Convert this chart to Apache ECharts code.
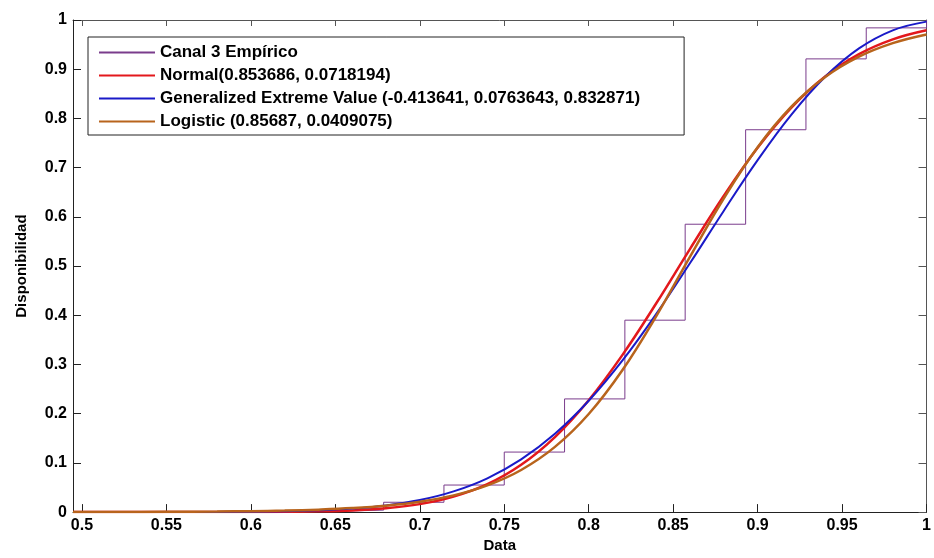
<!DOCTYPE html>
<html>
<head>
<meta charset="utf-8">
<script src="https://cdn.jsdelivr.net/npm/echarts@6/dist/echarts.min.js"></script>
<style>
html,body{margin:0;padding:0;background:#fff;}
#chart{width:934px;height:558px;}
</style>
</head>
<body>
<div id="chart"></div>
<script>
// ---- data ----
const xTicks = [0.5, 0.55, 0.6, 0.65, 0.7, 0.75, 0.8, 0.85, 0.9, 0.95, 1];
const yTicks = [0, 0.1, 0.2, 0.3, 0.4, 0.5, 0.6, 0.7, 0.8, 0.9, 1];

const empX = [0.63, 0.63, 0.6786, 0.7143, 0.75, 0.7857, 0.8214, 0.8571, 0.8929, 0.9286, 0.9643, 1.0];
const empY = [0, 0.004, 0.02, 0.055, 0.122, 0.23, 0.39, 0.585, 0.777, 0.921, 0.984, 1.0];

const fitX = [0.4947, 0.52, 0.55, 0.58, 0.60, 0.62, 0.64, 0.66, 0.68, 0.70, 0.72, 0.74, 0.76, 0.78, 0.80, 0.82, 0.84, 0.86, 0.88, 0.90, 0.92, 0.94, 0.96, 0.98, 1.00];
const normalY = [0, 0, 0, 0.0001, 0.0002, 0.0006, 0.0015, 0.0035, 0.0078, 0.0162, 0.0314, 0.0567, 0.0961, 0.1525, 0.2274, 0.3195, 0.4244, 0.5350, 0.6430, 0.7405, 0.8221, 0.8853, 0.9306, 0.9607, 0.9792];
const gevY = [0, 0, 0.0001, 0.0003, 0.0008, 0.0017, 0.0036, 0.0071, 0.0136, 0.0245, 0.0421, 0.0687, 0.1070, 0.1591, 0.2262, 0.3082, 0.4028, 0.5061, 0.6125, 0.7151, 0.8077, 0.8846, 0.9422, 0.9790, 0.9967];
const logisticY = [0.0001, 0.0003, 0.0006, 0.0012, 0.0019, 0.0030, 0.0050, 0.0081, 0.0131, 0.0211, 0.0340, 0.0543, 0.0856, 0.1325, 0.1994, 0.2888, 0.3984, 0.5191, 0.6377, 0.7416, 0.8239, 0.8842, 0.9256, 0.9530, 0.9707];

const names = [
  'Canal 3 Empírico',
  'Normal(0.853686, 0.0718194)',
  'Generalized Extreme Value (-0.413641, 0.0763643, 0.832871)',
  'Logistic (0.85687, 0.0409075)'
];

const zip = (xs, ys) => xs.map((x, i) => [x, ys[i]]);
const FONT = 'Arial, "Liberation Sans", sans-serif';
const fmt = v => String(+v.toFixed(2));

const chart = echarts.init(document.getElementById('chart'), null, {renderer: 'canvas'});

const baseX = {
  type: 'value', min: 0.4947, max: 1,
  splitLine: {show: false}
};
const baseY = {
  type: 'value', min: 0, max: 1, interval: 0.1,
  splitLine: {show: false}
};

chart.setOption({
  animation: false,
  backgroundColor: '#fff',
  grid: {left: 73, right: 6, top: 20, bottom: 44},
  legend: {
    orient: 'vertical',
    left: 88, top: 37,
    padding: [7, 44, 5, 10],
    itemWidth: 56, itemHeight: 14, itemGap: 6, itemTextGap: 6,
    borderColor: '#222', borderWidth: 1, backgroundColor: '#fff',
    itemStyle: {opacity: 0},
    textStyle: {fontFamily: FONT, fontWeight: 'bold', fontSize: 17, color: '#000'},
    data: names
  },
  xAxis: [
    Object.assign({}, baseX, {
      position: 'bottom',
      name: 'Data', nameLocation: 'middle', nameGap: 24,
      nameTextStyle: {fontFamily: FONT, fontWeight: 'bold', fontSize: 15, color: '#000'},
      axisLine: {show: true, onZero: false, lineStyle: {color: '#222', width: 1}},
      axisTick: {show: true, inside: true, length: 8, customValues: xTicks, lineStyle: {color: '#222'}},
      axisLabel: {show: true, customValues: xTicks, margin: 5, formatter: fmt,
        fontFamily: FONT, fontWeight: 'bold', fontSize: 16, color: '#000'}
    }),
    Object.assign({}, baseX, {
      position: 'top',
      axisLine: {show: true, onZero: false, lineStyle: {color: '#555', width: 1}},
      axisTick: {show: true, inside: true, length: 6, customValues: xTicks, lineStyle: {color: '#555'}},
      axisLabel: {show: false}
    })
  ],
  yAxis: [
    Object.assign({}, baseY, {
      position: 'left',
      name: 'Disponibilidad', nameLocation: 'middle', nameGap: 44,
      nameTextStyle: {fontFamily: FONT, fontWeight: 'bold', fontSize: 15, color: '#000'},
      axisLine: {show: true, onZero: false, lineStyle: {color: '#222', width: 1}},
      axisTick: {show: true, inside: true, length: 8, lineStyle: {color: '#222'}},
      axisLabel: {show: true, margin: 6, formatter: fmt,
        fontFamily: FONT, fontWeight: 'bold', fontSize: 16, color: '#000'}
    }),
    Object.assign({}, baseY, {
      position: 'right',
      axisLine: {show: true, onZero: false, lineStyle: {color: '#555', width: 1}},
      axisTick: {show: true, inside: true, length: 8, lineStyle: {color: '#555'}},
      axisLabel: {show: false}
    })
  ],
  series: [
    {
      name: names[0], type: 'line', step: 'end', symbol: 'none',
      xAxisIndex: 0, yAxisIndex: 0,
      data: zip(empX, empY),
      lineStyle: {color: '#7a3c8c', width: 1},
      itemStyle: {color: '#7a3c8c'}, z: 2
    },
    {
      name: names[1], type: 'line', smooth: 0.4, symbol: 'none',
      xAxisIndex: 0, yAxisIndex: 0,
      data: zip(fitX, normalY),
      lineStyle: {color: '#e3181c', width: 2.5},
      itemStyle: {color: '#e3181c'}, z: 3
    },
    {
      name: names[2], type: 'line', smooth: 0.4, symbol: 'none',
      xAxisIndex: 0, yAxisIndex: 0,
      data: zip(fitX, gevY),
      lineStyle: {color: '#1a1ac8', width: 2},
      itemStyle: {color: '#1a1ac8'}, z: 4
    },
    {
      name: names[3], type: 'line', smooth: 0.4, symbol: 'none',
      xAxisIndex: 0, yAxisIndex: 0,
      data: zip(fitX, logisticY),
      lineStyle: {color: '#b8641c', width: 2.5},
      itemStyle: {color: '#b8641c'}, z: 5
    }
  ]
});
</script>
</body>
</html>
